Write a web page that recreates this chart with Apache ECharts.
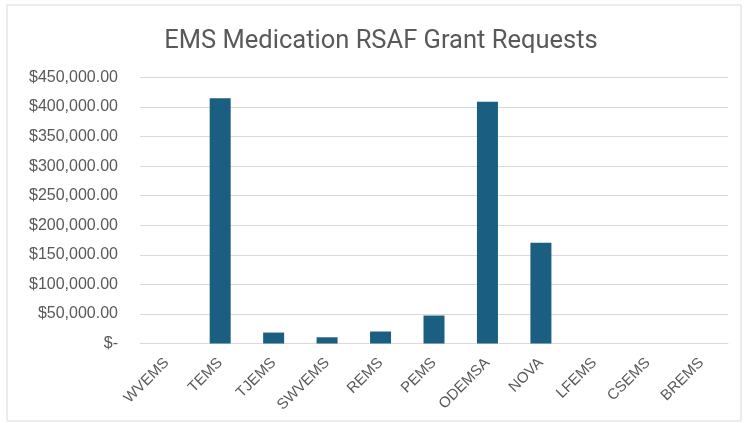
<!DOCTYPE html>
<html>
<head>
<meta charset="utf-8">
<script src="https://cdn.jsdelivr.net/npm/echarts@6/dist/echarts.min.js"></script>
<style>
  html, body { margin: 0; padding: 0; background: #fff; }
  #chart { width: 744px; height: 423px; }
</style>
</head>
<body>
<div id="chart"></div>
<script>
// regions and requested amounts
const regions = ['WVEMS', 'TEMS', 'TJEMS', 'SWVEMS', 'REMS', 'PEMS', 'ODEMSA', 'NOVA', 'LFEMS', 'CSEMS', 'BREMS'];
const requests = [0, 415000, 18500, 10500, 20300, 47300, 409000, 170500, 0, 0, 0];

const chart = echarts.init(document.getElementById('chart'), null, { renderer: 'canvas' });

// money label like excel accounting format
function money(v) {
  if (v === 0) return '$-';
  return '$' + v.toLocaleString('en-US', { minimumFractionDigits: 2, maximumFractionDigits: 2 });
}

chart.setOption({
  animation: false,
  backgroundColor: '#fff',
  graphic: [{
    type: 'rect',
    shape: { x: 7, y: 5, width: 734, height: 416 },
    style: { fill: 'none', stroke: '#d9d9d9', lineWidth: 1 },
    silent: true
  }],
  title: {
    text: 'EMS Medication RSAF Grant Requests',
    left: 376,
    textAlign: 'center',
    top: 24,
    textStyle: { fontFamily: 'Roboto', fontWeight: 'normal', fontSize: 25.5, color: '#595959' }
  },
  grid: { left: 140, right: 16, top: 77.5, bottom: 79.5, containLabel: false },
  xAxis: {
    type: 'category',
    data: regions,
    axisLine: { show: true, lineStyle: { color: '#d9d9d9' } },
    axisTick: { show: false },
    axisLabel: { rotate: 45, color: '#595959', fontSize: 15, fontFamily: 'Liberation Sans', margin: 17, interval: 0 }
  },
  yAxis: {
    type: 'value',
    min: 0,
    max: 450000,
    interval: 50000,
    axisLine: { show: false },
    axisTick: { show: false },
    splitLine: { lineStyle: { color: '#d9d9d9' } },
    axisLabel: { color: '#595959', fontSize: 16, fontFamily: 'Liberation Sans', margin: 22, formatter: money }
  },
  series: [{
    type: 'bar',
    data: requests,
    barWidth: 21,
    itemStyle: { color: '#1a5f82' },
    silent: true
  }]
});
</script>
</body>
</html>
